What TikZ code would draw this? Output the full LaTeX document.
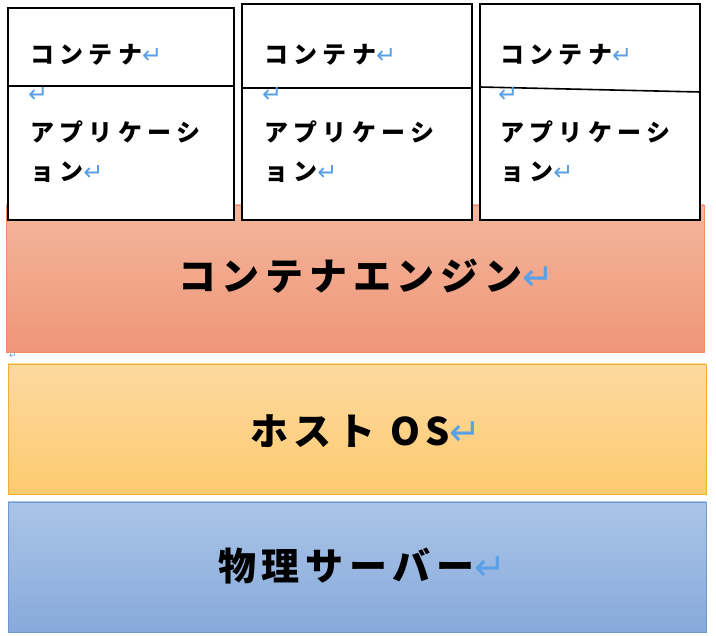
\documentclass[tikz,border=0pt]{standalone}
\usepackage{fontspec}
\newfontfamily\jp{Noto Sans CJK JP}[LetterSpace=22]
\newfontfamily\jpb{Noto Sans CJK JP}[LetterSpace=15]
\newfontfamily\sym{DejaVu Sans}
\definecolor{ret}{HTML}{5AA0E6}
\newcommand{\rt}{{\sym\color{ret}\fontseries{m}\selectfont ↵}}
\begin{document}
\begin{tikzpicture}[x=1pt,y=-1pt,
 cbox/.style={draw=black,line width=1.6pt,fill=white},
 small/.style={anchor=west,inner sep=0pt,font=\jp\bfseries\fontsize{24}{26}\selectfont},
 big/.style={inner sep=0pt,font=\jpb\bfseries\fontsize{38}{40}\selectfont}]
\useasboundingbox (0,0) rectangle (716,636);
% layers
\shade[top color={rgb,255:red,243;green,182;blue,156},bottom color={rgb,255:red,240;green,150;blue,120},draw={rgb,255:red,240;green,140;blue,100}] (6,205) rectangle (704,352);
\shade[top color={rgb,255:red,253;green,217;blue,160},bottom color={rgb,255:red,253;green,203;blue,112},draw={rgb,255:red,244;green,176;blue,48}] (8,364) rectangle (706,494);
\shade[top color={rgb,255:red,170;green,196;blue,231},bottom color={rgb,255:red,135;green,170;blue,220},draw={rgb,255:red,109;green,152;blue,208}] (8,502) rectangle (706,632);
\node[big,anchor=west] (eng) at (178,276) {コンテナエンジン\rt};
\node[big,anchor=west] (os) at (250,431) {ホスト OS\rt};
\node[big,anchor=west] (srv) at (218,566) {物理サーバー\rt};
\node[inner sep=0pt,font=\small] (r0) at (13,356) {\rt};
% containers
\draw[cbox] (8,8) rectangle (234,220);
\draw[cbox] (242,4) rectangle (472,220);
\draw[cbox] (480,4) rectangle (700,220);
\draw[line width=1.6pt] (8,86) -- (234,86);
\draw[line width=1.6pt] (242,88) -- (472,88);
\draw[line width=1.6pt] (480,87) -- (700,92);
\foreach \x/\n in {30/a,264/b,500/c}{
 \node[small] (c\n) at (\x,55) {コンテナ\rt};
 \node[small] (r\n) at (\x-2,95) {\rt};
 \node[small] (p\n) at (\x,132) {アプリケーシ};
 \node[small] (q\n) at (\x,172) {ョン\rt};
}
\end{tikzpicture}
\end{document}
